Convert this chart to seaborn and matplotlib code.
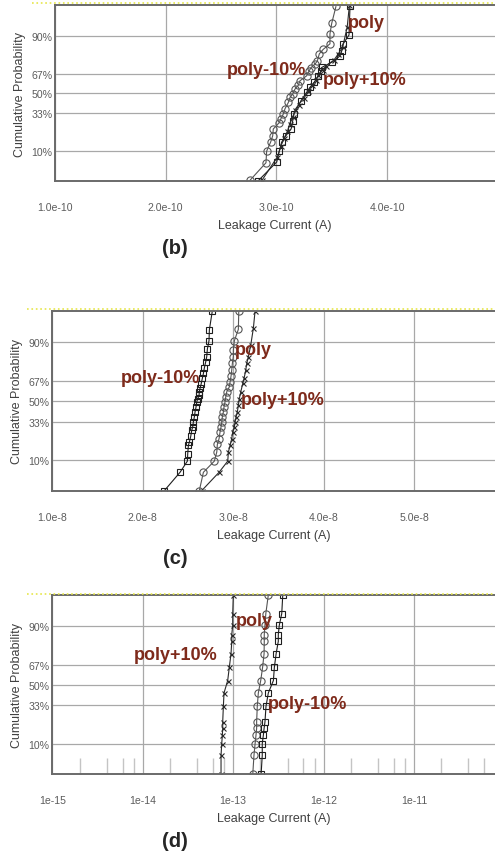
import numpy as np
import pandas as pd
import matplotlib
matplotlib.use('Agg')
import matplotlib.pyplot as plt
import seaborn as sns
from matplotlib.lines import Line2D
from matplotlib.ticker import LogLocator, NullFormatter
from statistics import NormalDist

# --- panel (b): leakage in units of 1e-10 A, cumulative probability ---
b_poly_i = [2.762, 2.906, 2.912, 2.948, 2.967, 2.972, 3.026, 3.039, 3.062, 3.078, 3.108, 3.123, 3.147, 3.168,
            3.198, 3.213, 3.274, 3.295, 3.313, 3.349, 3.370, 3.388, 3.424, 3.484, 3.484, 3.500, 3.538]
b_poly_p = [0.027, 0.062, 0.10, 0.14, 0.174, 0.215, 0.258, 0.284, 0.323, 0.367, 0.42, 0.464, 0.494, 0.538,
            0.571, 0.61, 0.652, 0.69, 0.716, 0.742, 0.764, 0.81, 0.836, 0.864, 0.907, 0.94, 0.973]
b_minus_i = [2.837, 3.003, 3.026, 3.048, 3.087, 3.133, 3.148, 3.159, 3.222, 3.273, 3.303, 3.342, 3.378, 3.403,
             3.409, 3.505, 3.575, 3.590, 3.600, 3.656, 3.665]
b_minus_p = [0.0265, 0.064, 0.10, 0.14, 0.175, 0.215, 0.273, 0.324, 0.435, 0.509, 0.553, 0.596, 0.651, 0.691,
             0.717, 0.757, 0.797, 0.826, 0.862, 0.902, 0.973]
b_plus_i = [2.87, 3.01, 3.04, 3.07, 3.10, 3.12, 3.15, 3.17, 3.20, 3.25, 3.29, 3.32, 3.36, 3.38, 3.42, 3.45,
            3.52, 3.56, 3.60, 3.64, 3.66]
b_plus_p = [0.027, 0.08, 0.12, 0.16, 0.20, 0.25, 0.30, 0.36, 0.40, 0.46, 0.52, 0.57, 0.62, 0.66, 0.70, 0.73,
            0.77, 0.81, 0.85, 0.93, 0.975]

# --- panel (c): leakage in units of 1e-8 A ---
c_minus_i = [2.238, 2.411, 2.492, 2.496, 2.503, 2.514, 2.529, 2.540, 2.551, 2.558, 2.569, 2.577, 2.588, 2.596,
             2.607, 2.621, 2.624, 2.632, 2.643, 2.657, 2.669, 2.680, 2.695, 2.706, 2.713, 2.731, 2.735, 2.768]
c_minus_p = [0.0265, 0.062, 0.0975, 0.128, 0.169, 0.189, 0.223, 0.264, 0.289, 0.327, 0.367, 0.409, 0.452, 0.495,
             0.523, 0.552, 0.581, 0.609, 0.642, 0.689, 0.726, 0.766, 0.804, 0.833, 0.871, 0.905, 0.939, 0.975]
c_poly_i = [2.624, 2.669, 2.790, 2.817, 2.823, 2.842, 2.853, 2.864, 2.872, 2.878, 2.890, 2.897, 2.908, 2.916,
            2.927, 2.956, 2.964, 2.975, 2.982, 2.989, 3.000, 3.000, 3.011, 3.055, 3.060]
c_poly_p = [0.0265, 0.062, 0.0975, 0.136, 0.175, 0.209, 0.253, 0.289, 0.327, 0.367, 0.409, 0.452, 0.495, 0.538,
            0.581, 0.623, 0.663, 0.71, 0.75, 0.794, 0.833, 0.866, 0.905, 0.94, 0.975]
c_plus_i = [2.651, 2.842, 2.938, 2.945, 2.964, 2.982, 2.993, 3.011, 3.019, 3.030, 3.044, 3.055, 3.066, 3.082,
            3.104, 3.118, 3.137, 3.148, 3.166, 3.192, 3.221, 3.240]
c_plus_p = [0.0265, 0.062, 0.0975, 0.136, 0.169, 0.209, 0.253, 0.289, 0.327, 0.367, 0.409, 0.465, 0.523, 0.581,
            0.65, 0.689, 0.75, 0.794, 0.833, 0.888, 0.943, 0.975]

# --- panel (d): leakage in units of 1e-13 A, same probability levels for all three ---
d_p = [0.026, 0.062, 0.10, 0.136, 0.171, 0.21, 0.32, 0.43, 0.538, 0.651, 0.752, 0.829, 0.864, 0.903, 0.94, 0.975]
d_poly_i = [1.65, 1.70, 1.75, 1.79, 1.82, 1.82, 1.85, 1.90, 2.02, 2.12, 2.20, 2.21, 2.21, 2.25, 2.30, 2.45]
d_minus_i = [2.04, 2.10, 2.10, 2.16, 2.20, 2.25, 2.31, 2.45, 2.79, 2.86, 2.99, 3.16, 3.16, 3.24, 3.45, 3.54]
d_plus_i = [0.735, 0.735, 0.748, 0.760, 0.767, 0.767, 0.780, 0.793, 0.871, 0.908, 0.948, 0.966, 0.966, 0.990,
            0.990, 1.005]

prob_ticks = [0.10, 0.33, 0.50, 0.67, 0.90]
prob_labels = ['10%', '33%', '50%', '67%', '90%']

sns.set_style('white')
plt.rcParams['font.family'] = ['Liberation Sans', 'DejaVu Sans']

# normal probability axis
_nd = NormalDist()


def _ppf_one(v):
    if v != v:
        return np.nan
    return _nd.inv_cdf(min(max(v, 1e-9), 1 - 1e-9))


prob_fwd = np.vectorize(_ppf_one, otypes=[float])
prob_inv = np.vectorize(_nd.cdf, otypes=[float])

# marker, size, colour for poly / poly-10% / poly+10%
styles = {'poly': ('o', 5.2, '#555555'),
          'poly-10%': ('s', 4.8, '#1e1e1e'),
          'poly+10%': ('x', 3.6, '#2a2a2a')}
LABEL_RED = '#7e2a1b'
GRID = '#a8a8a8'
TICKC = '#5c5c5c'

fig = plt.figure(figsize=(4.95, 8.53), dpi=100)
W, H = 495, 853


def make_axes(left, top, bottom):
    return fig.add_axes([left / W, 1 - bottom / H, 1 - left / W, (bottom - top) / H])


def draw_panel(ax, curves, unit, xlim, xticks, xticklabels, texts, log=False):
    for name, cur, prob in curves:
        mk, ms, col = styles[name]
        df = pd.DataFrame({'current': np.array(cur) * unit, 'prob': prob})
        sns.lineplot(data=df, x='current', y='prob', ax=ax, estimator=None, sort=False,
                     color=col, linewidth=0.8, marker=mk, markersize=ms,
                     markerfacecolor='none', markeredgecolor=col, markeredgewidth=0.8)
    ax.set_yscale('function', functions=(prob_fwd, prob_inv))
    ax.set_ylim(0.026, 0.975)
    ax.set_yticks(prob_ticks, prob_labels)
    if log:
        ax.set_xscale('log')
        ax.xaxis.set_minor_locator(LogLocator(base=10, subs=(2, 4, 6, 8)))
        ax.xaxis.set_minor_formatter(NullFormatter())
        ax.tick_params(axis='x', which='minor', direction='in', length=11.5, width=1,
                       color='#c4c4c4', bottom=True)
    ax.set_xlim(*xlim)
    ax.set_xticks(xticks, xticklabels)
    ax.grid(True, which='major', color=GRID, linewidth=0.9)
    ax.tick_params(axis='x', which='major', length=0, pad=15, labelsize=7.6, labelcolor=TICKC)
    ax.tick_params(axis='y', length=0, pad=2, labelsize=7.6, labelcolor=TICKC)
    for s in ['left', 'bottom', 'top']:
        ax.spines[s].set_color('#6a6a6a')
        ax.spines[s].set_linewidth(1.4)
    ax.spines['right'].set_visible(False)
    ax.set_xlabel('Leakage Current (A)', fontsize=9, color='#404040', labelpad=5)
    ax.set_ylabel('Cumulative Probability', fontsize=9, color='#404040', labelpad=4)
    for txt, xf, yf in texts:
        ax.text(xf, yf, txt, transform=ax.transAxes, ha='left', va='center', fontsize=13,
                fontweight='bold', color=LABEL_RED)


ax_b = make_axes(55, 6, 182)
draw_panel(ax_b,
           [('poly', b_poly_i, b_poly_p), ('poly-10%', b_minus_i, b_minus_p), ('poly+10%', b_plus_i, b_plus_p)],
           1e-10, (1e-10, 4.975e-10), [1e-10, 2e-10, 3e-10, 4e-10],
           ['1.0e-10', '2.0e-10', '3.0e-10', '4.0e-10'],
           [('poly', 0.666, 0.898), ('poly-10%', 0.390, 0.633), ('poly+10%', 0.608, 0.576)])

ax_c = make_axes(52.3, 311.7, 492)
draw_panel(ax_c,
           [('poly-10%', c_minus_i, c_minus_p), ('poly', c_poly_i, c_poly_p), ('poly+10%', c_plus_i, c_plus_p)],
           1e-8, (1e-8, 5.89e-8), [1e-8, 2e-8, 3e-8, 4e-8, 5e-8],
           ['1.0e-8', '2.0e-8', '3.0e-8', '4.0e-8', '5.0e-8'],
           [('poly', 0.413, 0.784), ('poly-10%', 0.155, 0.627), ('poly+10%', 0.426, 0.510)])

ax_d = make_axes(52.3, 596, 775)
draw_panel(ax_d,
           [('poly+10%', d_plus_i, d_p), ('poly', d_poly_i, d_p), ('poly-10%', d_minus_i, d_p)],
           1e-13, (1e-15, 7.88e-11), [1e-15, 1e-14, 1e-13, 1e-12, 1e-11],
           ['1e-15', '1e-14', '1e-13', '1e-12', '1e-11'],
           [('poly', 0.415, 0.860), ('poly+10%', 0.185, 0.665), ('poly-10%', 0.487, 0.395)],
           log=True)

# yellow dotted frame line just above each chart
for x0, y in [(32, 3.5), (27, 309.8), (27, 594.8)]:
    fig.add_artist(Line2D([x0 / W, 1], [1 - y / H, 1 - y / H], transform=fig.transFigure,
                          color='#e6e64a', linewidth=1.2, linestyle=':'))

for letter, y in [('(b)', 248), ('(c)', 559), ('(d)', 842)]:
    fig.text(175 / W, 1 - y / H, letter, ha='center', va='center', fontsize=14.5, fontweight='bold')

fig.savefig('out.png', dpi=100)
